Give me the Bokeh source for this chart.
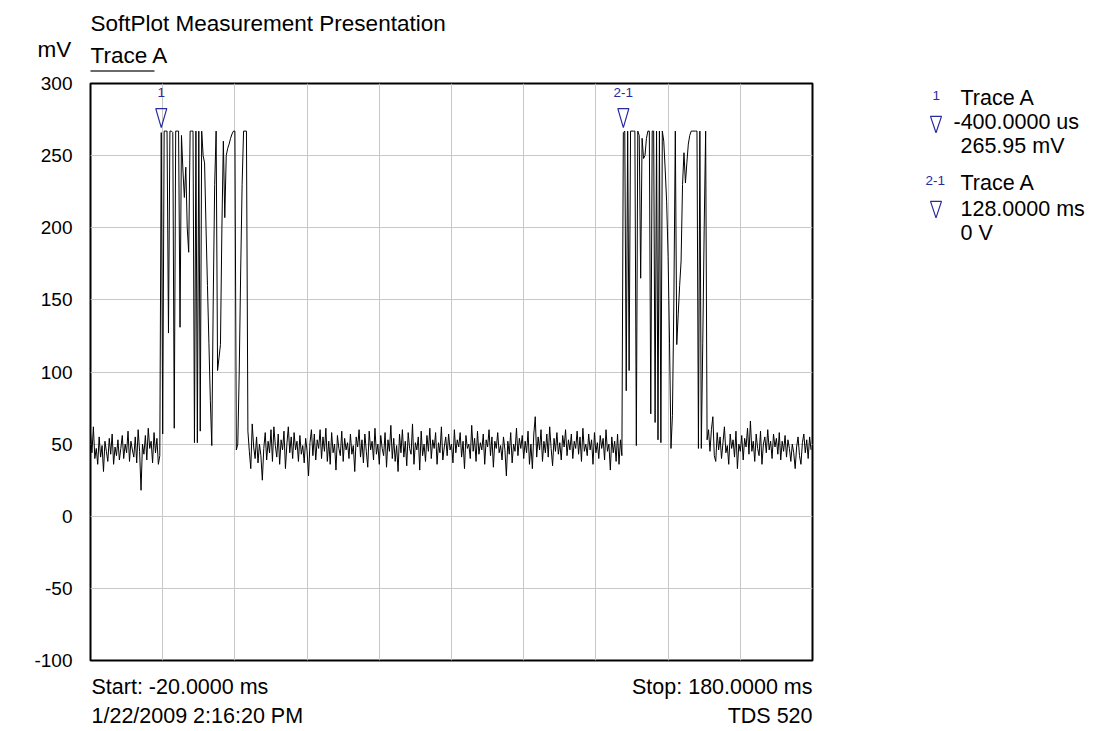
import numpy as np
from bokeh.plotting import figure
from bokeh.layouts import column, row
from bokeh.models import Label, FixedTicker, ColumnDataSource, Range1d
from bokeh.core.properties import value
from bokeh.embed import file_html
from bokeh.resources import INLINE

# ---------------- data (mV), sampled every 0.4 ms from -20 ms ----------------
t_start_ms = -20.0
sample_ms = 0.4

seg_pre = [58, 44, 62, 40, 47, 36, 55, 41, 49, 31, 52, 45, 38, 54, 43, 57, 36, 48, 42, 53, 39, 47, 56, 40, 50,
           44, 59, 38, 52, 46, 41, 55, 37, 60, 45, 18, 50, 43, 56, 39, 61, 47, 52, 37, 58, 44, 54, 36, 42]

burst_1 = [265.95, 57, 267, 267, 267, 127, 267, 267, 266, 61,
           267, 267, 267, 131, 264, 240, 221, 242, 200, 183,
           267, 267, 267, 51, 267, 51, 267, 59, 267, 250,
           245, 200, 160, 120, 80, 49, 150, 230, 267, 101,
           110, 119, 200, 260, 207, 250, 255, 258, 262, 265,
           267, 267, 46, 50, 100, 170, 230, 267, 267, 267,
           59]

seg_mid = [45, 33, 64, 48, 40, 55, 37, 50, 42, 25, 47, 58, 39, 52, 44, 60, 38, 62, 49, 41, 57, 36, 53, 46, 59,
           33, 50, 62, 44, 55, 40, 58, 46, 52, 38, 56, 43, 49, 37, 54, 45, 28, 51, 60, 42, 57, 39, 53, 47, 60,
           40, 55, 45, 61, 38, 52, 36, 58, 44, 50, 32, 56, 47, 42, 59, 38, 54, 46, 51, 40, 57, 43, 49, 31, 55,
           48, 60, 41, 53, 37, 57, 45, 34, 59, 46, 52, 39, 61, 43, 50, 36, 56, 47, 42, 58, 34, 53, 45, 63, 40,
           54, 38, 49, 31, 57, 44, 60, 41, 52, 35, 58, 47, 43, 64, 36, 51, 46, 55, 32, 59, 42, 50, 38, 56, 45,
           61, 40, 53, 47, 58, 36, 51, 44, 62, 39, 48, 55, 42, 57, 46, 50, 37, 60, 44, 53, 48, 58, 41, 52, 33,
           56, 47, 50, 40, 63, 45, 54, 38, 59, 43, 51, 46, 57, 36, 53, 48, 60, 42, 55, 34, 52, 47, 58, 44, 49,
           39, 55, 46, 28, 52, 43, 58, 37, 50, 45, 61, 42, 54, 47, 56, 40, 52, 44, 59, 36, 50, 33, 57, 69, 41,
           55, 46, 60, 38, 52, 44, 57, 41, 62, 47, 35, 54, 45, 58, 43, 51, 39, 56, 48, 60, 42, 53, 46, 57, 40,
           52, 47, 59, 43, 55, 38, 61, 45, 50, 42, 57, 46, 53, 36, 58, 44, 51, 40, 56, 47, 54, 39, 60, 45, 50,
           32, 55, 44, 52, 38, 57, 36, 53, 42]

burst_2 = [265.95, 267, 87, 267, 101, 267, 267, 267, 267, 49,
           267, 264, 165, 262, 248, 250, 262, 267, 267, 71,
           267, 267, 65, 267, 53, 267, 51, 267, 260, 240,
           218, 180, 120, 47, 70, 150, 267, 119, 140, 160,
           177, 230, 252, 231, 245, 258, 264, 267, 267, 267,
           267, 267, 47, 267, 47, 120, 200, 267, 53, 60,
           45]

seg_post = [60, 69, 42, 38, 58, 46, 55, 40, 51, 62, 44, 49, 36, 57, 47, 53, 41, 59, 33, 50, 45, 56, 39, 54, 48,
            61, 43, 66, 45, 52, 38, 57, 47, 42, 59, 36, 50, 55, 44, 60, 46, 52, 40, 57, 48, 54, 43, 58, 39, 52,
            45, 56, 41, 53, 47, 38, 50, 44, 33, 48, 55, 42, 36, 51, 57, 44, 53, 40, 55, 46]

marker_names = ["1", "2-1"]
marker_times = [-0.4, 127.6]
marker_values = [265.95, 265.95]

y_ticks = [-100, -50, 0, 50, 100, 150, 200, 250, 300]
y_tick_labels = {-100: "-100", -50: "-50", 0: "0", 50: "50", 100: "100",
                 150: "150", 200: "200", 250: "250", 300: "300"}
x_grid = [-20, 0, 20, 40, 60, 80, 100, 120, 140, 160, 180]
x_min, x_max = -20, 180
y_min, y_max = -100, 300

values = seg_pre + burst_1 + seg_mid + burst_2 + seg_post
times = t_start_ms + sample_ms * np.arange(len(values))

# ---------------- layout ----------------
PAGE_W, PAGE_H = 1096, 731
TOP_H = 73          # header strip
MAIN_W = 820        # plot incl. y-axis
MAIN_H = 597
BOT_H = PAGE_H - TOP_H - MAIN_H
RIGHT_W = PAGE_W - MAIN_W
FRAME_L, FRAME_R, FRAME_T, FRAME_B = 90, 812, 10, MAIN_H - 10
FONT = "Liberation Sans"
BLUE = "#2a2a9e"
TXT = "21.5px"
HEAD = "22.5px"
SMALL = "13.5px"


def text_fig(w, h):
    f = figure(width=w, height=h, output_backend="svg", toolbar_location=None,
               x_range=Range1d(0, w), y_range=Range1d(h, 0),
               x_axis_type=None, y_axis_type=None,
               min_border=0, min_border_left=0, min_border_right=0,
               min_border_top=0, min_border_bottom=0)
    f.outline_line_color = None
    f.xgrid.visible = False
    f.ygrid.visible = False
    f.background_fill_color = "white"
    f.border_fill_color = "white"
    return f


def lab(f, txt, x, y, size=TXT, color="black", align="left", font=FONT):
    # y is the vertical centre of the text line (pixels from the top)
    f.add_layout(Label(x=x, y=y, text=txt, text_font=font, text_font_size=size,
                       text_color=color, text_align=align, text_baseline="middle"))


# header
top = text_fig(PAGE_W, TOP_H)
lab(top, "SoftPlot Measurement Presentation", 90, 22.5, size=HEAD)
lab(top, "mV", 37, 48.5, size=HEAD)
lab(top, "Trace A", 90, 54.5, size=HEAD)
top.segment(x0=[90], y0=[70.5], x1=[154], y1=[70.5], line_color="#6a6a6a", line_width=2)

# main plot
p = figure(width=MAIN_W, height=MAIN_H, output_backend="svg", toolbar_location=None,
           x_range=Range1d(x_min, x_max), y_range=Range1d(y_min, y_max),
           min_border_left=FRAME_L, min_border_right=MAIN_W - FRAME_R,
           min_border_top=FRAME_T, min_border_bottom=MAIN_H - FRAME_B)
p.background_fill_color = "white"
p.border_fill_color = "white"
p.outline_line_color = "black"
p.outline_line_width = 2

p.xaxis.visible = False
p.yaxis.ticker = FixedTicker(ticks=y_ticks)
p.yaxis.major_label_overrides = y_tick_labels
p.yaxis.axis_line_color = None
p.yaxis.major_tick_line_color = None
p.yaxis.minor_tick_line_color = None
p.yaxis.major_label_text_font = FONT
p.yaxis.major_label_text_font_size = "19px"
p.yaxis.major_label_text_color = "black"
p.yaxis.major_label_standoff = 12

p.xgrid.ticker = FixedTicker(ticks=x_grid)
p.ygrid.ticker = FixedTicker(ticks=y_ticks)
p.xgrid.grid_line_color = "#c8c8c8"
p.ygrid.grid_line_color = "#c8c8c8"

p.line(times, values, line_color="black", line_width=1)

# marker triangles (open, pointing down onto the trace) and their names
px_per_ms = (FRAME_R - FRAME_L) / (x_max - x_min)
px_per_mv = (FRAME_B - FRAME_T) / (y_max - y_min)
tri_xs = [[t - 5.5 / px_per_ms, t + 5.5 / px_per_ms, t] for t in marker_times]
tri_ys = [[v + 24 / px_per_mv, v + 24 / px_per_mv, v + 5 / px_per_mv] for v in marker_values]
p.patches(tri_xs, tri_ys, fill_color=None, line_color=BLUE, line_width=1.2)

msrc = ColumnDataSource(dict(x=marker_times, y=marker_values, name=marker_names))
p.text(x="x", y="y", text="name", source=msrc, text_font=value(FONT),
       text_font_size=SMALL, text_color=BLUE, text_align="center",
       text_baseline="middle", y_offset=-40)

# right-hand marker readout
right = text_fig(RIGHT_W, MAIN_H)
lab(right, "1", 112, 12.5, size=SMALL, color=BLUE)
lab(right, "Trace A", 140, 14.5)
lab(right, "-400.0000 us", 133, 39.5)
lab(right, "265.95 mV", 140, 64.5)
lab(right, "2-1", 105, 100, size=SMALL, color=BLUE)
lab(right, "Trace A", 140, 102.5)
lab(right, "128.0000 ms", 140, 129.5)
lab(right, "0 V", 140, 154.5)
right.patches([[110, 121, 115.5], [110, 121, 115.5]], [[34, 34, 51], [122, 122, 139]],
              fill_color=None, line_color=BLUE, line_width=1.2)

# footer
bot = text_fig(PAGE_W, BOT_H)
lab(bot, "Start: -20.0000 ms", 91, 16.7)
lab(bot, "1/22/2009 2:16:20 PM", 91, 45.8)
lab(bot, "Stop: 180.0000 ms", 812, 16.7, align="right")
lab(bot, "TDS 520", 812, 45.8, align="right")

layout = column(top, row(p, right, spacing=0), bot, spacing=0)

open("out.html", "w").write(file_html(layout, INLINE))
